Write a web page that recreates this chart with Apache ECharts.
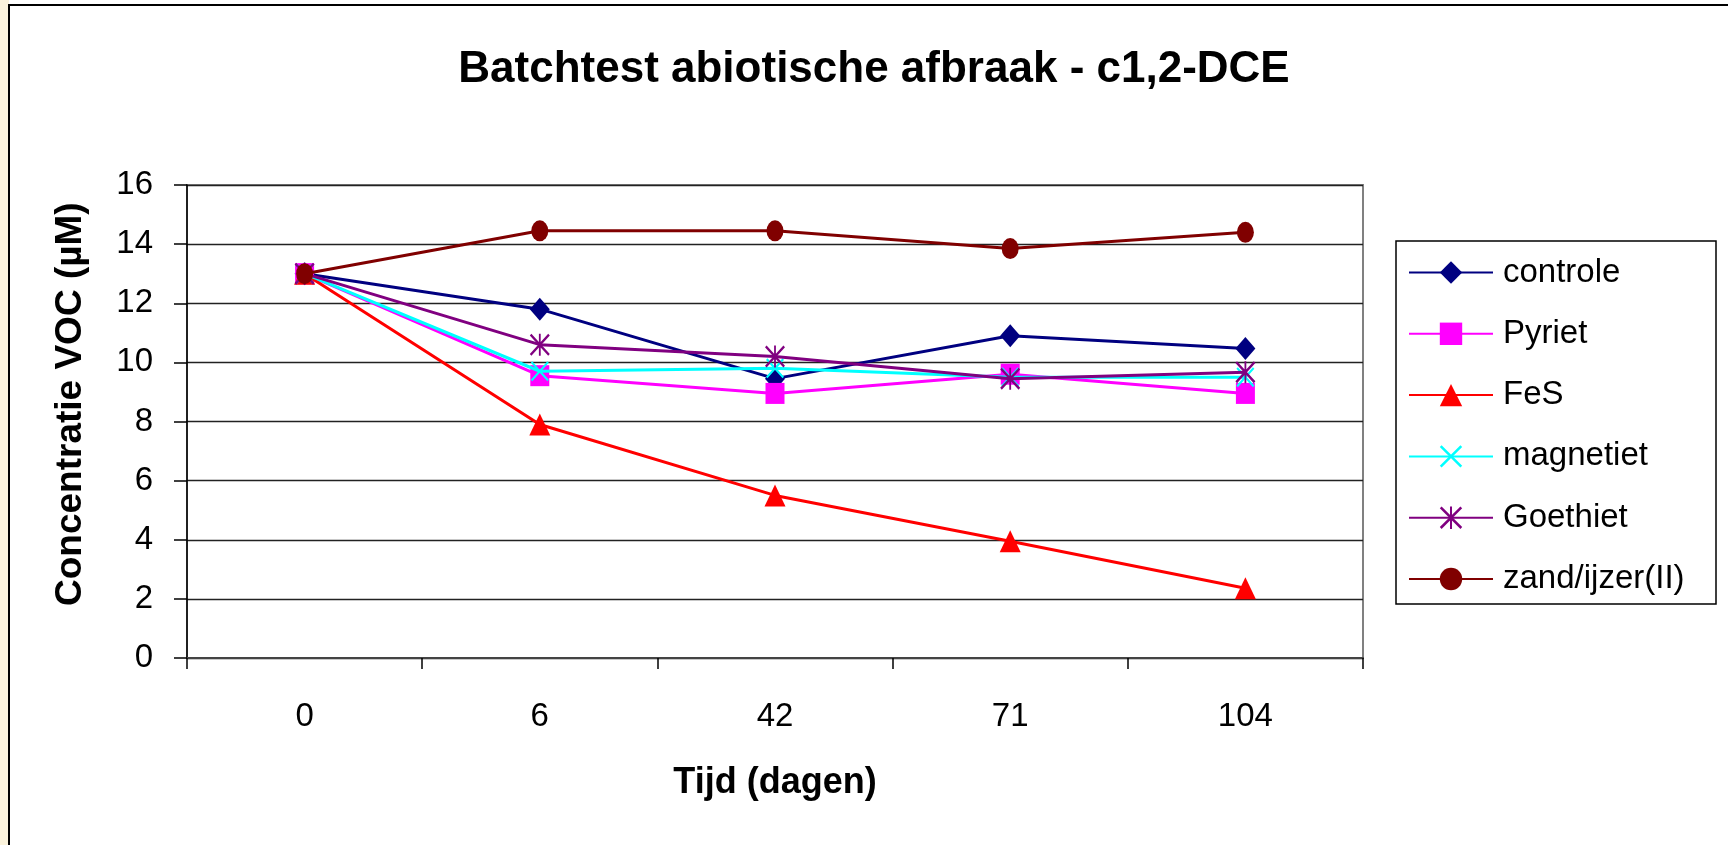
<!DOCTYPE html>
<html>
<head>
<meta charset="utf-8">
<script src="https://cdn.jsdelivr.net/npm/echarts@6/dist/echarts.min.js"></script>
<style>html,body{margin:0;padding:0;background:#fff}#c{width:1728px;height:845px}</style>
</head>
<body>
<div id="c"></div>
<script>
const titleText = 'Batchtest abiotische afbraak - c1,2-DCE';
const yAxisTitle = 'Concentratie VOC (µM)';
const xAxisTitle = 'Tijd (dagen)';
const days = ['0', '6', '42', '71', '104'];
const seriesNames = ['controle', 'Pyriet', 'FeS', 'magnetiet', 'Goethiet', 'zand/ijzer(II)'];
const controle = [13.0, 11.8, 9.45, 10.9, 10.47];
const pyriet = [13.0, 9.55, 8.95, 9.6, 8.95];
const fes = [13.0, 7.9, 5.5, 3.95, 2.36];
const magnetiet = [13.0, 9.7, 9.8, 9.5, 9.5];
const goethiet = [13.0, 10.6, 10.2, 9.45, 9.67];
const zandIjzer = [13.0, 14.45, 14.45, 13.85, 14.4];
const yTicks = [0, 2, 4, 6, 8, 10, 12, 14, 16];

const FONT = "'Liberation Sans', Arial, sans-serif";
const crossPath = 'path://M0,1.6 L1.6,0 L20,18.4 L18.4,20 Z M18.4,0 L20,1.6 L1.6,20 L0,18.4 Z';
const starPath = 'path://M0,1.6 L1.6,0 L20,18.4 L18.4,20 Z M18.4,0 L20,1.6 L1.6,20 L0,18.4 Z M9.1,0 L10.9,0 L10.9,20 L9.1,20 Z';

const styles = [
  {data: controle, color: '#000080', symbol: 'diamond', size: [20, 23]},
  {data: pyriet, color: '#FF00FF', symbol: 'rect', size: [19, 21]},
  {data: fes, color: '#FF0000', symbol: 'triangle', size: [21, 22]},
  {data: magnetiet, color: '#00FFFF', symbol: crossPath, size: [18, 20]},
  {data: goethiet, color: '#800080', symbol: starPath, size: [20, 22]},
  {data: zandIjzer, color: '#800000', symbol: 'circle', size: [17, 21]}
];

const chart = echarts.init(document.getElementById('c'), null, {renderer: 'canvas'});
chart.setOption({
  backgroundColor: '#ffffff',
  animation: false,
  title: {
    text: titleText,
    left: 869,
    textAlign: 'center',
    top: 43,
    textStyle: {fontFamily: FONT, fontSize: 44, fontWeight: 'bold', color: '#000'}
  },
  graphic: [
    {type: 'rect', shape: {x: 0, y: 0, width: 9, height: 845}, style: {fill: '#fbf3dc'}, silent: true, z: -10},
    {type: 'polyline', shape: {points: [[9, 845], [9, 5], [1728, 5]]}, style: {stroke: '#000', lineWidth: 2, fill: null}, silent: true},
    {type: 'rect', shape: {x: 1396, y: 241, width: 320, height: 363}, style: {fill: '#fff', stroke: '#000', lineWidth: 1.5}, silent: true, z: 0},
    {type: 'text', x: 71, y: 606, rotation: Math.PI / 2,
      style: {text: yAxisTitle, font: "bold 37px 'Liberation Sans', Arial, sans-serif", fill: '#000', textAlign: 'left', textVerticalAlign: 'middle'}, silent: true}
  ],
  legend: {
    orient: 'vertical',
    left: 1408,
    top: 256,
    padding: 0,
    itemWidth: 84,
    itemHeight: 28,
    itemGap: 28.3,
    data: seriesNames,
    textStyle: {fontFamily: FONT, fontSize: 33, lineHeight: 32, color: '#000', padding: [0, 0, 0, 5]},
    z: 5
  },
  grid: {
    left: 187, right: 365, top: 185, bottom: 187,
    show: true, borderColor: '#808080', borderWidth: 2, backgroundColor: 'transparent'
  },
  xAxis: {
    type: 'category',
    data: days,
    boundaryGap: true,
    name: xAxisTitle,
    nameLocation: 'middle',
    nameGap: 107,
    nameTextStyle: {fontFamily: FONT, fontSize: 36, fontWeight: 'bold', color: '#000'},
    axisLine: {lineStyle: {color: '#444', width: 2}},
    axisTick: {show: true, length: 11, lineStyle: {color: '#000', width: 1.5}},
    axisLabel: {fontFamily: FONT, fontSize: 33, color: '#000', margin: 42},
    splitLine: {show: false}
  },
  yAxis: {
    type: 'value',
    min: yTicks[0],
    max: yTicks[yTicks.length - 1],
    interval: 2,
    axisLine: {show: true, lineStyle: {color: '#000', width: 1.5}},
    axisTick: {show: true, length: 13, lineStyle: {color: '#000', width: 1.5}},
    axisLabel: {fontFamily: FONT, fontSize: 33, color: '#000', margin: 34},
    splitLine: {show: true, lineStyle: {color: '#222', width: 1.3}}
  },
  series: styles.map((s, i) => ({
    name: seriesNames[i],
    type: 'line',
    data: s.data,
    symbol: s.symbol,
    symbolSize: s.size,
    showAllSymbol: true,
    color: s.color,
    lineStyle: {color: s.color, width: 3},
    itemStyle: {color: s.color, borderWidth: 0},
    z: 3 + i
  }))
});
</script>
</body>
</html>
